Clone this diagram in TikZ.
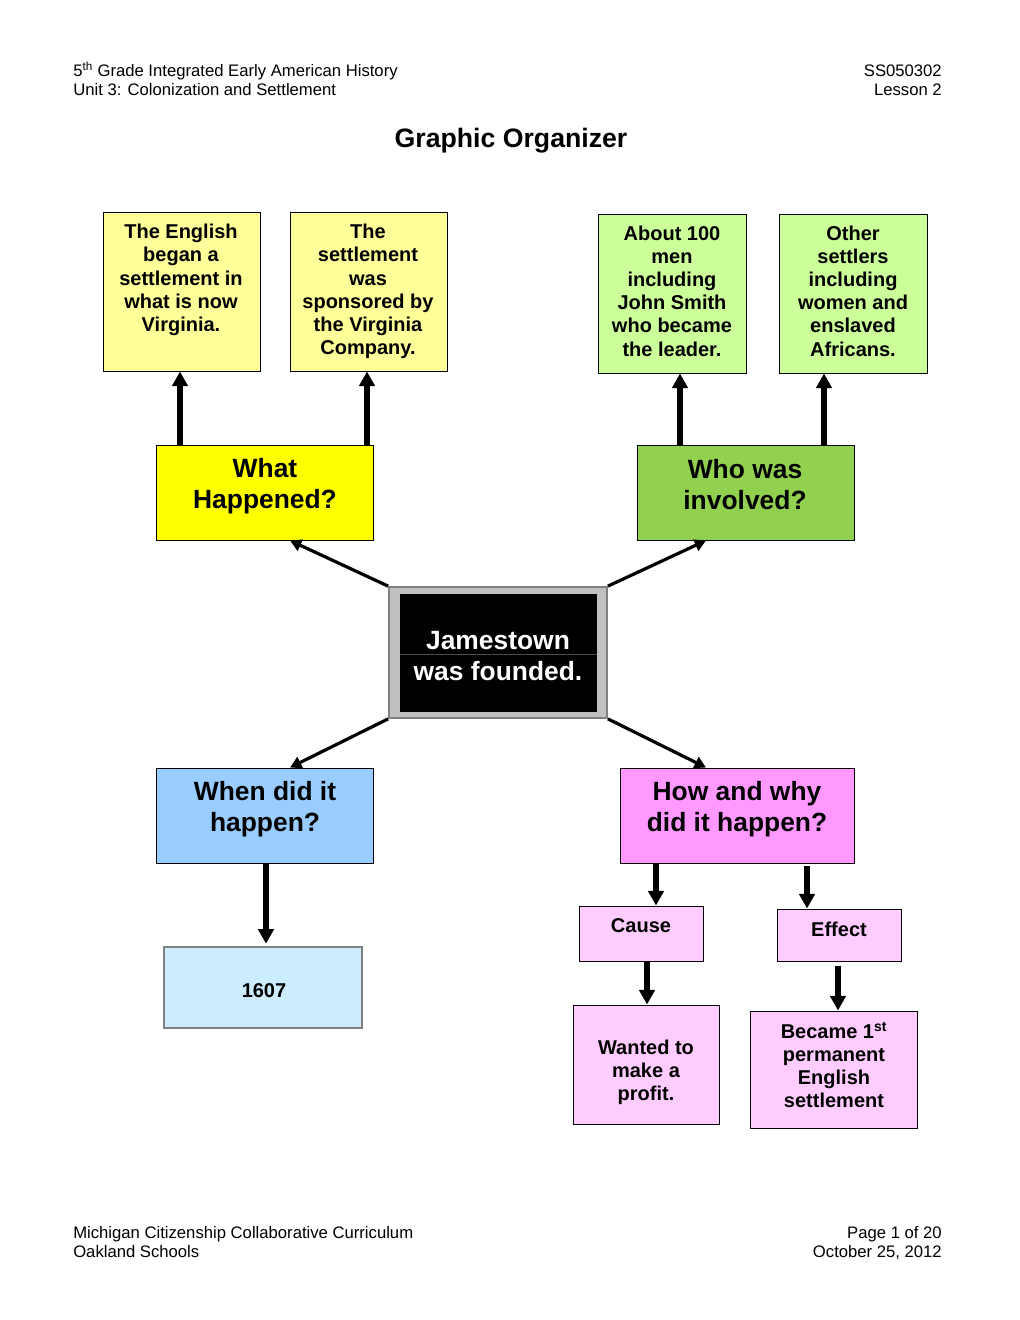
\documentclass[tikz,border=0pt]{standalone}
\usepackage{fontspec}
\setmainfont{Liberation Sans}
\usetikzlibrary{arrows.meta,fit}
\definecolor{ylight}{HTML}{FFFF99}
\definecolor{ystrong}{HTML}{FFFF00}
\definecolor{glight}{HTML}{CCFF99}
\definecolor{gstrong}{HTML}{92D050}
\definecolor{bstrong}{HTML}{99CCFF}
\definecolor{blight}{HTML}{CCECFF}
\definecolor{pstrong}{HTML}{FF99FF}
\definecolor{plight}{HTML}{FFCCFF}
\definecolor{ctrgrey}{HTML}{C0C0C0}
\definecolor{ctrborder}{HTML}{808080}
\begin{document}
\begin{tikzpicture}[x=0.75pt,y=-0.75pt,
  box/.style={draw=black,line width=0.75pt,inner sep=0pt},
  hdr/.style={font=\fontsize{12.5}{14.25}\selectfont,inner sep=0pt},
  boxtxt/.style={font=\bfseries\fontsize{15}{17.4}\selectfont,align=center,inner sep=0pt},
  bigtxt/.style={font=\bfseries\fontsize{19.8}{23.25}\selectfont,align=center,inner sep=0pt},
  varr/.style={line width=3.9pt,-{Triangle[length=11pt,width=11.5pt]}},
  darr/.style={line width=2.4pt,-{Triangle[length=8.5pt,width=9pt]}}]
\useasboundingbox (0,0) rectangle (1020,1320);

% header and footer
\node[hdr,anchor=base west,align=left] (hl) at (73,95) {5\textsuperscript{th} Grade Integrated Early American History\\Unit 3: Colonization and Settlement};
\node[hdr,anchor=base east,align=right] (hr) at (942,95) {SS050302\\Lesson 2};
\node[hdr,anchor=base west,align=left] (fl) at (73,1257) {Michigan Citizenship Collaborative Curriculum\\Oakland Schools};
\node[hdr,anchor=base east,align=right] (fr) at (942,1257) {Page 1 of 20\\October 25, 2012};
\node[font=\bfseries\fontsize{20}{24}\selectfont,inner sep=0pt] (title) at (511,141) {Graphic Organizer};

% boxes
\node[box,fill=ylight,fit={(103,212)(260,371)}] (y1) {};
\node[box,fill=ylight,fit={(290,212)(447,371)}] (y2) {};
\node[box,fill=glight,fit={(598,214)(746,373)}] (g1) {};
\node[box,fill=glight,fit={(779,214)(927,373)}] (g2) {};
\node[box,fill=ystrong,fit={(156,445)(373,540)}] (wh) {};
\node[box,fill=gstrong,fit={(637,445)(854,540)}] (wi) {};
\node[draw=ctrborder,line width=1.3pt,fill=ctrgrey,inner sep=0pt,fit={(389,587)(607,718)}] (ctr) {};
\node[fill=black,inner sep=0pt,fit={(400,594)(597,712)}] (ctrin) {};
\draw[draw=black!70,line width=0.5pt] (ctrin.west |- 0,654) -- (ctrin.east |- 0,654);
\node[box,fill=bstrong,fit={(156,768)(373,863)}] (when) {};
\node[box,fill=pstrong,fit={(620,768)(854,863)}] (how) {};
\node[draw=ctrborder,line width=0.9pt,fill=blight,inner sep=0pt,fit={(164,947)(362,1028)}] (yr) {};
\node[box,fill=plight,fit={(579,906)(703,961)}] (cause) {};
\node[box,fill=plight,fit={(777,909)(901,961)}] (effect) {};
\node[box,fill=plight,fit={(573,1005)(719,1124)}] (wanted) {};
\node[box,fill=plight,fit={(750,1011)(917,1128)}] (became) {};

% texts
\node[boxtxt] (ty1) at (181,280) {The English\\began a\\settlement in\\what is now\\Virginia.};
\node[boxtxt] (ty2) at (368,291.5) {The\\settlement\\was\\sponsored by\\the Virginia\\Company.};
\node[boxtxt] (tg1) at (672,291) {About 100\\men\\including\\John Smith\\who became\\the leader.};
\node[boxtxt] (tg2) at (853,291) {Other\\settlers\\including\\women and\\enslaved\\Africans.};
\node[bigtxt] (twh) at (265,486.5) {What\\Happened?};
\node[bigtxt] (twi) at (745,484.5) {Who was\\involved?};
\node[bigtxt,text=white] (tctr) at (498,656.5) {Jamestown\\was founded.};
\node[bigtxt] (twhen) at (265,809) {When did it\\happen?};
\node[bigtxt] (thow) at (737,809) {How and why\\did it happen?};
\node[boxtxt] (tyr) at (264,991) {1607};
\node[boxtxt] (tcause) at (641,926) {Cause};
\node[boxtxt] (teffect) at (839,929) {Effect};
\node[boxtxt] (twanted) at (646,1072.5) {Wanted to\\make a\\profit.};
\node[boxtxt] (tbecame) at (834,1065) {Became 1\textsuperscript{st}\\permanent\\English\\settlement};

% helper x positions
\coordinate (xa) at (180,0);
\coordinate (xb) at (367,0);
\coordinate (xc) at (680,0);
\coordinate (xd) at (824,0);
\coordinate (xe) at (266,0);
\coordinate (xf) at (656,0);
\coordinate (xg) at (807,0);
\coordinate (xh) at (647,0);
\coordinate (xi) at (838,0);
\coordinate (xl) at (290,0);
\coordinate (xr) at (706,0);

% vertical arrows
\draw[varr] (wh.north -| xa) -- (y1.south -| xa);
\draw[varr] (wh.north -| xb) -- (y2.south -| xb);
\draw[varr] (wi.north -| xc) -- (g1.south -| xc);
\draw[varr] (wi.north -| xd) -- (g2.south -| xd);
\draw[varr,shorten >=2pt] (when.south -| xe) -- (yr.north -| xe);
\draw[varr] (how.south -| xf) -- (cause.north -| xf);
\draw[varr,shorten <=2pt] (how.south -| xg) -- (effect.north -| xg);
\draw[varr] (cause.south -| xh) -- (wanted.north -| xh);
\draw[varr,shorten <=3pt] (effect.south -| xi) -- (became.north -| xi);

% diagonal arrows
\draw[darr] (ctr.north west) -- (wh.south -| xl);
\draw[darr] (ctr.north east) -- (wi.south -| xr);
\draw[darr] (ctr.south west) -- (when.north -| xl);
\draw[darr] (ctr.south east) -- (how.north -| xr);
\end{tikzpicture}
\end{document}
